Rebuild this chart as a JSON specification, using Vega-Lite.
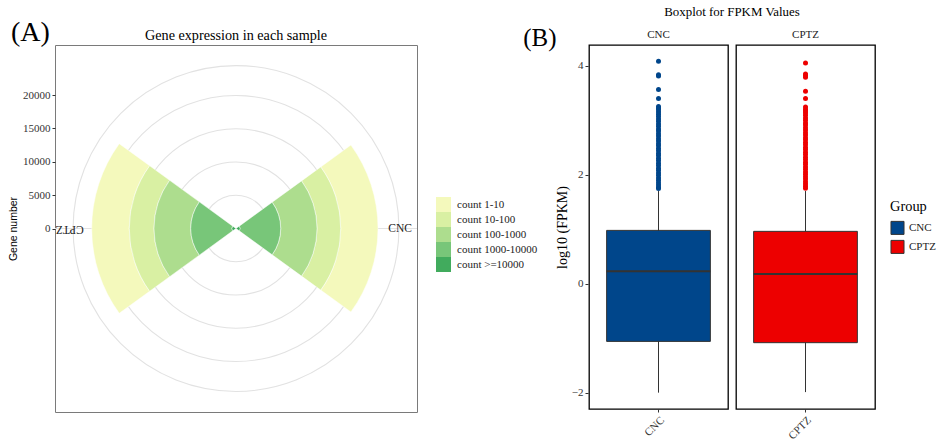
{
  "$schema": "https://vega.github.io/schema/vega-lite/v6.json",
  "background": "white",
  "padding": {"left": 8, "top": 6, "right": 5, "bottom": 5},
  "config": {
    "font": "Liberation Serif",
    "view": {"stroke": null},
    "axis": {"labelFont": "Liberation Serif", "titleFont": "Liberation Serif", "labelColor": "#333", "tickColor": "#333", "grid": false, "titleFontWeight": "normal", "titleColor": "#000"},
    "legend": {"labelFont": "Liberation Serif", "titleFont": "Liberation Serif", "labelColor": "#222", "titleColor": "#000", "titleFontWeight": "normal"},
    "title": {"font": "Liberation Serif", "fontWeight": "normal", "color": "#000"},
    "header": {"labelFont": "Liberation Serif", "titleFont": "Liberation Serif"}
  },
  "title": {"text": "(A)", "anchor": "start", "frame": "bounds", "fontSize": 28, "offset": -41, "dx": 3},
  "bounds": "flush",
  "spacing": 172,
  "resolve": {"scale": {"color": "independent", "radius": "independent", "theta": "independent"}, "legend": {"color": "independent"}},
  "datasets": {
    "wedges": [
      {"sample": "CNC", "level": "count 1-10", "count": 5610},
      {"sample": "CNC", "level": "count 10-100", "count": 3564},
      {"sample": "CNC", "level": "count 100-1000", "count": 5460},
      {"sample": "CNC", "level": "count 1000-10000", "count": 6121},
      {"sample": "CNC", "level": "count >=10000", "count": 602},
      {"sample": "CPTZ", "level": "count 1-10", "count": 5655},
      {"sample": "CPTZ", "level": "count 10-100", "count": 3715},
      {"sample": "CPTZ", "level": "count 100-1000", "count": 5520},
      {"sample": "CPTZ", "level": "count 1000-10000", "count": 6211},
      {"sample": "CPTZ", "level": "count >=10000", "count": 602}
    ],
    "rings": [{"r": 5000}, {"r": 10000}, {"r": 15000}, {"r": 20000}, {"r": 24500}],
    "samples": [{"sample": "CNC"}, {"sample": "CPTZ"}],
    "fpkm": [
      {"group": "CNC", "kind": "box", "lower": -2.0, "q1": -1.059, "median": 0.226, "q3": 0.978, "upper": 1.70},
      {"group": "CPTZ", "kind": "box", "lower": -1.99, "q1": -1.083, "median": 0.176, "q3": 0.96, "upper": 1.70},
      {"group": "CNC", "kind": "out", "value": 4.08},
      {"group": "CNC", "kind": "out", "value": 3.835},
      {"group": "CNC", "kind": "out", "value": 3.81},
      {"group": "CNC", "kind": "out", "value": 3.565},
      {"group": "CNC", "kind": "out", "value": 3.40},
      {"group": "CNC", "kind": "out", "value": 3.25},
      {"group": "CNC", "kind": "out", "value": 3.22},
      {"group": "CNC", "kind": "out", "value": 3.19},
      {"group": "CNC", "kind": "out", "value": 3.15},
      {"group": "CNC", "kind": "out", "value": 3.11},
      {"group": "CNC", "kind": "out", "value": 3.07},
      {"group": "CNC", "kind": "out", "value": 3.02},
      {"group": "CNC", "kind": "out", "value": 2.98},
      {"group": "CNC", "kind": "out", "value": 2.93},
      {"group": "CNC", "kind": "out", "value": 2.89},
      {"group": "CNC", "kind": "out", "value": 2.84},
      {"group": "CNC", "kind": "out", "value": 2.80},
      {"group": "CNC", "kind": "out", "value": 2.75},
      {"group": "CNC", "kind": "out", "value": 2.71},
      {"group": "CNC", "kind": "out", "value": 2.66},
      {"group": "CNC", "kind": "out", "value": 2.62},
      {"group": "CNC", "kind": "out", "value": 2.57},
      {"group": "CNC", "kind": "out", "value": 2.53},
      {"group": "CNC", "kind": "out", "value": 2.48},
      {"group": "CNC", "kind": "out", "value": 2.44},
      {"group": "CNC", "kind": "out", "value": 2.39},
      {"group": "CNC", "kind": "out", "value": 2.35},
      {"group": "CNC", "kind": "out", "value": 2.30},
      {"group": "CNC", "kind": "out", "value": 2.26},
      {"group": "CNC", "kind": "out", "value": 2.21},
      {"group": "CNC", "kind": "out", "value": 2.17},
      {"group": "CNC", "kind": "out", "value": 2.12},
      {"group": "CNC", "kind": "out", "value": 2.08},
      {"group": "CNC", "kind": "out", "value": 2.03},
      {"group": "CNC", "kind": "out", "value": 1.99},
      {"group": "CNC", "kind": "out", "value": 1.94},
      {"group": "CNC", "kind": "out", "value": 1.90},
      {"group": "CNC", "kind": "out", "value": 1.85},
      {"group": "CNC", "kind": "out", "value": 1.81},
      {"group": "CNC", "kind": "out", "value": 1.77},
      {"group": "CNC", "kind": "out", "value": 1.745},
      {"group": "CPTZ", "kind": "out", "value": 4.05},
      {"group": "CPTZ", "kind": "out", "value": 3.85},
      {"group": "CPTZ", "kind": "out", "value": 3.82},
      {"group": "CPTZ", "kind": "out", "value": 3.79},
      {"group": "CPTZ", "kind": "out", "value": 3.53},
      {"group": "CPTZ", "kind": "out", "value": 3.40},
      {"group": "CPTZ", "kind": "out", "value": 3.24},
      {"group": "CPTZ", "kind": "out", "value": 3.20},
      {"group": "CPTZ", "kind": "out", "value": 3.17},
      {"group": "CPTZ", "kind": "out", "value": 3.13},
      {"group": "CPTZ", "kind": "out", "value": 3.09},
      {"group": "CPTZ", "kind": "out", "value": 3.04},
      {"group": "CPTZ", "kind": "out", "value": 3.00},
      {"group": "CPTZ", "kind": "out", "value": 2.95},
      {"group": "CPTZ", "kind": "out", "value": 2.91},
      {"group": "CPTZ", "kind": "out", "value": 2.86},
      {"group": "CPTZ", "kind": "out", "value": 2.82},
      {"group": "CPTZ", "kind": "out", "value": 2.77},
      {"group": "CPTZ", "kind": "out", "value": 2.73},
      {"group": "CPTZ", "kind": "out", "value": 2.68},
      {"group": "CPTZ", "kind": "out", "value": 2.64},
      {"group": "CPTZ", "kind": "out", "value": 2.59},
      {"group": "CPTZ", "kind": "out", "value": 2.55},
      {"group": "CPTZ", "kind": "out", "value": 2.50},
      {"group": "CPTZ", "kind": "out", "value": 2.46},
      {"group": "CPTZ", "kind": "out", "value": 2.41},
      {"group": "CPTZ", "kind": "out", "value": 2.37},
      {"group": "CPTZ", "kind": "out", "value": 2.32},
      {"group": "CPTZ", "kind": "out", "value": 2.28},
      {"group": "CPTZ", "kind": "out", "value": 2.23},
      {"group": "CPTZ", "kind": "out", "value": 2.19},
      {"group": "CPTZ", "kind": "out", "value": 2.14},
      {"group": "CPTZ", "kind": "out", "value": 2.10},
      {"group": "CPTZ", "kind": "out", "value": 2.05},
      {"group": "CPTZ", "kind": "out", "value": 2.01},
      {"group": "CPTZ", "kind": "out", "value": 1.96},
      {"group": "CPTZ", "kind": "out", "value": 1.92},
      {"group": "CPTZ", "kind": "out", "value": 1.87},
      {"group": "CPTZ", "kind": "out", "value": 1.83},
      {"group": "CPTZ", "kind": "out", "value": 1.79},
      {"group": "CPTZ", "kind": "out", "value": 1.75}
    ]
  },
  "hconcat": [
    {
      "width": 362,
      "height": 367,
      "view": {"stroke": "#7a7a7a", "strokeWidth": 1},
      "title": {"text": "Gene expression in each sample", "fontSize": 14.2, "offset": 2, "anchor": "middle"},
      "layer": [
        {
          "data": {"name": "rings"},
          "mark": {"type": "arc", "fill": null, "stroke": "#e2e2e2", "strokeWidth": 1.1},
          "encoding": {
            "theta": {"value": 0},
            "theta2": {"value": 6.2832},
            "radius": {"field": "r", "type": "quantitative", "stack": null, "scale": {"type": "linear", "domain": [0, 20000], "range": [0, 133], "zero": true, "nice": false}}
          }
        },
        {
          "data": {"name": "rings"},
          "transform": [{"filter": "datum.r == 5000"}],
          "mark": {"type": "rule", "color": "#e2e2e2", "strokeWidth": 1.1},
          "encoding": {
            "y": {"datum": 0, "type": "quantitative", "scale": {"domain": [-27525, 27525], "nice": false, "zero": false}}
          }
        },
        {
          "data": {"name": "wedges"},
          "transform": [{"stack": "count", "groupby": ["sample"], "sort": [{"field": "level", "order": "descending"}], "as": ["r0", "r1"]}],
          "mark": {"type": "arc", "stroke": "#ffffff", "strokeWidth": 0.5},
          "encoding": {
            "theta": {"field": "sample", "type": "nominal", "scale": {"type": "band", "domain": ["CNC", "CPTZ"], "range": [0, 6.283185307], "paddingInner": 0.6, "paddingOuter": 0.3}},
            "radius": {"field": "r1", "type": "quantitative", "stack": null, "scale": {"type": "linear", "domain": [0, 20000], "range": [0, 133], "zero": true, "nice": false}},
            "radius2": {"field": "r0"},
            "color": {
              "field": "level", "type": "nominal",
              "scale": {"domain": ["count 1-10", "count 10-100", "count 100-1000", "count 1000-10000", "count >=10000"], "range": ["#f4f9bc", "#d9f0a3", "#addd8e", "#78c679", "#41ab5d"]},
              "legend": {"title": null, "orient": "none", "legendX": 381, "legendY": 152, "symbolType": "square", "symbolSize": 225, "symbolStrokeWidth": 0, "labelFontSize": 11, "rowPadding": 0, "labelOffset": 6, "padding": 0}
            }
          }
        },
        {
          "data": {"name": "samples"},
          "transform": [{"filter": "datum.sample == 'CNC'"}],
          "mark": {"type": "text", "align": "left", "baseline": "middle", "fontSize": 11.5, "color": "#222"},
          "encoding": {
            "theta": {"field": "sample", "type": "nominal", "scale": {"type": "band", "domain": ["CNC", "CPTZ"], "range": [0, 6.283185307], "paddingInner": 0.6, "paddingOuter": 0.3}},
            "radius": {"datum": 22900, "type": "quantitative", "stack": null, "scale": {"type": "linear", "domain": [0, 20000], "range": [0, 133], "zero": true, "nice": false}},
            "text": {"field": "sample"}
          }
        },
        {
          "data": {"name": "samples"},
          "transform": [{"filter": "datum.sample == 'CPTZ'"}],
          "mark": {"type": "text", "align": "left", "baseline": "middle", "fontSize": 11.5, "color": "#222", "angle": 180},
          "encoding": {
            "theta": {"field": "sample", "type": "nominal", "scale": {"type": "band", "domain": ["CNC", "CPTZ"], "range": [0, 6.283185307], "paddingInner": 0.6, "paddingOuter": 0.3}},
            "radius": {"datum": 22900, "type": "quantitative", "stack": null, "scale": {"type": "linear", "domain": [0, 20000], "range": [0, 133], "zero": true, "nice": false}},
            "text": {"field": "sample"}
          }
        },
        {
          "data": {"name": "rings"},
          "mark": {"type": "point", "opacity": 0},
          "encoding": {
            "y": {
              "field": "r", "type": "quantitative",
              "scale": {"domain": [-27525, 27525], "nice": false, "zero": false},
              "axis": {"values": [0, 5000, 10000, 15000, 20000], "format": "d", "title": "Gene number", "titleFont": "Liberation Sans", "titleFontSize": 10.5, "labelFontSize": 11, "tickSize": 3, "labelPadding": 2, "domain": false, "titlePadding": 4}
            }
          }
        }
      ]
    },
    {
      "data": {"name": "fpkm"},
      "title": {"text": "(B)", "anchor": "start", "frame": "bounds", "fontSize": 25, "offset": -45, "dx": -32},
      "facet": {
        "column": {
          "field": "group", "type": "nominal", "sort": ["CNC", "CPTZ"],
          "header": {"title": "Boxplot for FPKM Values", "titleFontSize": 12.9, "titleFontWeight": "normal", "titleColor": "#000", "titlePadding": 0, "labelFontSize": 11, "labelColor": "#222", "labelPadding": 4}
        }
      },
      "spacing": 6,
      "resolve": {"scale": {"x": "independent"}},
      "spec": {
        "width": 139,
        "height": 364,
        "view": {"stroke": "#000", "strokeWidth": 1.3},
        "encoding": {
          "x": {"field": "group", "type": "nominal", "scale": {"paddingInner": 0, "paddingOuter": 0.17}, "axis": {"title": null, "labelAngle": -45, "labelAlign": "right", "labelBaseline": "top", "labelFontSize": 11, "tickSize": 3, "domain": false, "labelPadding": 2}}
        },
        "layer": [
          {
            "transform": [{"filter": "datum.kind == 'box'"}],
            "mark": {"type": "rule", "color": "#333", "strokeWidth": 1},
            "encoding": {
              "y": {"field": "lower", "type": "quantitative", "title": "log10 (FPKM)", "scale": {"domain": [-2.30, 4.38], "nice": false, "zero": false}, "axis": {"values": [-2, 0, 2, 4], "format": "d", "labelFontSize": 11, "titleFontSize": 14, "tickSize": 3, "domain": false, "labelPadding": 2, "titlePadding": 2}},
              "y2": {"field": "upper"}
            }
          },
          {
            "transform": [{"filter": "datum.kind == 'box'"}],
            "mark": {"type": "bar", "stroke": "#333", "strokeWidth": 1},
            "encoding": {
              "y": {"field": "q1", "type": "quantitative", "title": "log10 (FPKM)"},
              "y2": {"field": "q3"},
              "color": {
                "field": "group", "type": "nominal",
                "scale": {"domain": ["CNC", "CPTZ"], "range": ["#00468B", "#ED0000"]},
                "legend": {"title": "Group", "orient": "none", "legendX": 301, "legendY": 155, "symbolType": "square", "symbolSize": 170, "symbolStrokeColor": "#333", "symbolStrokeWidth": 1, "titleFontSize": 14.4, "labelFontSize": 11, "rowPadding": 0, "titlePadding": 6, "padding": 0}
              }
            }
          },
          {
            "transform": [{"filter": "datum.kind == 'box'"}],
            "mark": {"type": "bar", "fill": null, "stroke": "#333", "strokeWidth": 2},
            "encoding": {
              "y": {"field": "median", "type": "quantitative", "title": "log10 (FPKM)"},
              "y2": {"field": "median"}
            }
          },
          {
            "transform": [{"filter": "datum.kind == 'out'"}],
            "mark": {"type": "point", "filled": true, "size": 25, "opacity": 1},
            "encoding": {
              "y": {"field": "value", "type": "quantitative", "title": "log10 (FPKM)"},
              "color": {"field": "group", "type": "nominal"}
            }
          }
        ]
      }
    }
  ]
}
